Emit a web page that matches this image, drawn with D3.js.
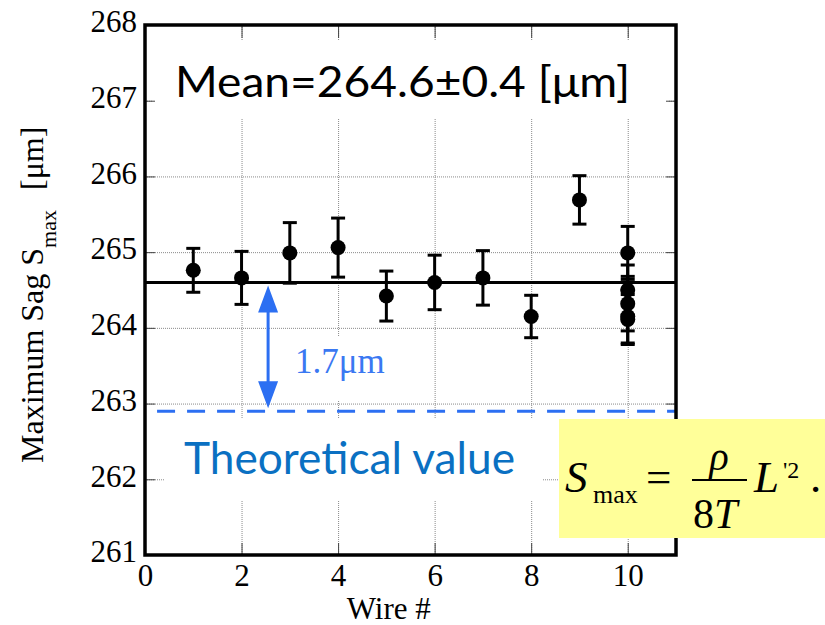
<!DOCTYPE html>
<html>
<head>
<meta charset="utf-8">
<script src="https://cdn.jsdelivr.net/npm/d3@7"></script>
<style>
  html, body { margin: 0; padding: 0; background: #fff; }
  svg { display: block; }
</style>
</head>
<body>
<svg id="chart" width="825" height="625"></svg>
<script>
// Measured maximum sag for each wire (several repeats on wire 10)
const wireNo = [1, 2, 3, 4, 5, 6, 7, 8, 9, 10, 10, 10, 10, 10];
const sagMax = [264.76, 264.66, 264.99, 265.06, 264.42, 264.60, 264.66, 264.15, 265.69, 264.99, 264.50, 264.32, 264.15, 264.11];
const sagErr = [0.29, 0.35, 0.40, 0.39, 0.33, 0.36, 0.36, 0.28, 0.32, 0.35, 0.33, 0.36, 0.35, 0.33];

const meanSag = 264.6;
const meanErr = 0.4;
const theorySag = 262.9;

const xTicks = [0, 2, 4, 6, 8, 10];
const yTicks = [261, 262, 263, 264, 265, 266, 267, 268];

(function draw() {
const svg = d3.select("#chart");
const pLeft = 145, pRight = 676, pTop = 25, pBottom = 555;

const x = d3.scaleLinear().domain([0, 11]).range([pLeft, pRight]);
const y = d3.scaleLinear().domain([261, 268]).range([pBottom, pTop]);

const serif = "'Liberation Serif', 'Times New Roman', serif";
const sans = "Lato, 'Open Sans', sans-serif";
const blue = "#2c6ff2";

// dotted grid
const grid = svg.append("g").attr("stroke", "#8a8a8a").attr("stroke-width", 1).attr("stroke-dasharray", "1,1");
grid.selectAll("line.h").data(yTicks.slice(1, -1)).join("line")
  .attr("x1", pLeft).attr("x2", pRight)
  .attr("y1", d => y(d) + 0.5).attr("y2", d => y(d) + 0.5);
grid.selectAll("line.v").data(xTicks.slice(1)).join("line")
  .attr("x1", d => x(d) + 0.5).attr("x2", d => x(d) + 0.5)
  .attr("y1", pTop).attr("y2", pBottom);

// white panels behind the annotations
const panels = [
  { x: 153, y: 40, w: 515, h: 78 },
  { x: 165, y: 418, w: 378, h: 82 },
  { x: 286, y: 337, w: 108, h: 63 }
];
svg.append("g").selectAll("rect").data(panels).join("rect")
  .attr("x", d => d.x).attr("y", d => d.y).attr("width", d => d.w).attr("height", d => d.h)
  .attr("fill", "#fff");

// axes with inward ticks
const axL = svg.append("g").attr("transform", `translate(${pLeft},0)`)
  .call(d3.axisLeft(y).tickValues(yTicks).tickSize(-10).tickPadding(8).tickFormat(d3.format("d")));
const axB = svg.append("g").attr("transform", `translate(0,${pBottom})`)
  .call(d3.axisBottom(x).tickValues(xTicks).tickSize(-12).tickPadding(9).tickFormat(d3.format("d")));
const axR = svg.append("g").attr("transform", `translate(${pRight},0)`)
  .call(d3.axisRight(y).tickValues(yTicks).tickSize(-10).tickFormat(""));
const axT = svg.append("g").attr("transform", `translate(0,${pTop})`)
  .call(d3.axisTop(x).tickValues(xTicks).tickSize(-13).tickFormat(""));
[axL, axB, axR, axT].forEach(g => {
  g.select(".domain").remove();
  g.selectAll(".tick line").attr("stroke", "#444").attr("stroke-width", 1);
  g.selectAll(".tick text").attr("fill", "#000").style("font-family", serif).style("font-size", "31px");
});
axL.selectAll(".tick text").attr("dy", "0.22em");
axB.selectAll(".tick text").attr("dy", "0.72em");

// theoretical value (dashed)
svg.append("line")
  .attr("x1", x(0.25)).attr("x2", pRight)
  .attr("y1", y(theorySag)).attr("y2", y(theorySag))
  .attr("stroke", blue).attr("stroke-width", 3).attr("stroke-dasharray", "18,12");

// mean line
svg.append("line")
  .attr("x1", pLeft).attr("x2", pRight)
  .attr("y1", y(meanSag)).attr("y2", y(meanSag))
  .attr("stroke", "#000").attr("stroke-width", 3);

// error bars and points
const pts = wireNo.map((w, i) => ({ w, v: sagMax[i], e: sagErr[i] }));
const eb = svg.append("g").attr("stroke", "#000").attr("stroke-width", 3);
eb.selectAll("line.bar").data(pts).join("line")
  .attr("x1", d => x(d.w)).attr("x2", d => x(d.w))
  .attr("y1", d => y(d.v + d.e)).attr("y2", d => y(d.v - d.e));
eb.selectAll("line.capT").data(pts).join("line")
  .attr("x1", d => x(d.w) - 7).attr("x2", d => x(d.w) + 7)
  .attr("y1", d => y(d.v + d.e)).attr("y2", d => y(d.v + d.e));
eb.selectAll("line.capB").data(pts).join("line")
  .attr("x1", d => x(d.w) - 7).attr("x2", d => x(d.w) + 7)
  .attr("y1", d => y(d.v - d.e)).attr("y2", d => y(d.v - d.e));
svg.append("g").selectAll("circle").data(pts).join("circle")
  .attr("cx", d => x(d.w)).attr("cy", d => y(d.v)).attr("r", 7.5).attr("fill", "#000");

// double arrow spanning the gap between mean and theory
const ax = x(2.55);
const yA = y(meanSag) + 3, yB = y(theorySag) - 3;
const headL = 27, headW = 10;
svg.append("line").attr("x1", ax).attr("x2", ax).attr("y1", yA + headL - 2).attr("y2", yB - headL + 2)
  .attr("stroke", blue).attr("stroke-width", 3);
svg.append("path")
  .attr("d", `M${ax},${yA} L${ax - headW},${yA + headL} L${ax + headW},${yA + headL} Z M${ax},${yB} L${ax - headW},${yB - headL} L${ax + headW},${yB - headL} Z`)
  .attr("fill", blue);

svg.append("text")
  .attr("x", ax + 27).attr("y", y(theorySag) - 38)
  .style("font-family", serif).style("font-size", "35px").attr("fill", "#3a78f2")
  .text(`${(meanSag - theorySag).toFixed(1)}μm`);

// mean annotation
svg.append("text")
  .attr("x", 175).attr("y", 97)
  .attr("textLength", 455).attr("lengthAdjust", "spacingAndGlyphs")
  .style("font-family", sans).style("font-size", "43px").attr("fill", "#000")
  .text(`Mean=${meanSag.toFixed(1)}±${meanErr.toFixed(1)} [μm]`);

// theory label
svg.append("text")
  .attr("x", 184).attr("y", y(theorySag) + 63)
  .attr("textLength", 331).attr("lengthAdjust", "spacingAndGlyphs")
  .style("font-family", sans).style("font-size", "44px").attr("fill", "#0a70c2")
  .text("Theoretical value");

// frame
svg.append("rect").attr("x", pLeft).attr("y", pTop).attr("width", pRight - pLeft).attr("height", pBottom - pTop)
  .attr("fill", "none").attr("stroke", "#000").attr("stroke-width", 3.5);

// formula box
const fb = { x: 559, y: 419, w: 266, h: 119 };
svg.append("rect").attr("x", fb.x).attr("y", fb.y).attr("width", fb.w).attr("height", fb.h).attr("fill", "#ffff99");
const fg = svg.append("g").attr("transform", `translate(${fb.x},${fb.y})`)
  .style("font-family", serif).attr("fill", "#000");
fg.append("text").attr("x", 6).attr("y", 73).style("font-size", "45px").style("font-style", "italic").text("S");
fg.append("text").attr("x", 34).attr("y", 84).style("font-size", "26px").text("max");
fg.append("text").attr("x", 87).attr("y", 73).style("font-size", "45px").text("=");
fg.append("line").attr("x1", 133).attr("x2", 188).attr("y1", 61).attr("y2", 61).attr("stroke", "#000").attr("stroke-width", 2);
fg.append("text").attr("x", 160).attr("y", 51).attr("text-anchor", "middle").style("font-size", "40px").style("font-style", "italic").text("ρ");
fg.append("text").attr("x", 134).attr("y", 109).style("font-size", "42px")
  .call(t => { t.append("tspan").text("8"); t.append("tspan").style("font-style", "italic").text("T"); });
fg.append("text").attr("x", 195).attr("y", 73).style("font-size", "45px").style("font-style", "italic").text("L");
fg.append("text").attr("x", 224).attr("y", 59).style("font-size", "24px").text("'2");
fg.append("text").attr("x", 251).attr("y", 73).style("font-size", "45px").text(".");

// axis titles
svg.append("text")
  .attr("x", x(5.05)).attr("y", 619).attr("text-anchor", "middle")
  .style("font-family", serif).style("font-size", "31px").text("Wire #");

const yl = svg.append("text")
  .attr("transform", "translate(43,463) rotate(-90)")
  .style("font-family", serif).style("font-size", "32px");
yl.append("tspan").text("Maximum Sag S");
yl.append("tspan").attr("dy", 13).style("font-size", "22px").text("max");
yl.append("tspan").attr("dy", -13).attr("dx", 20).text("[μm]");
})();
</script>
</body>
</html>
